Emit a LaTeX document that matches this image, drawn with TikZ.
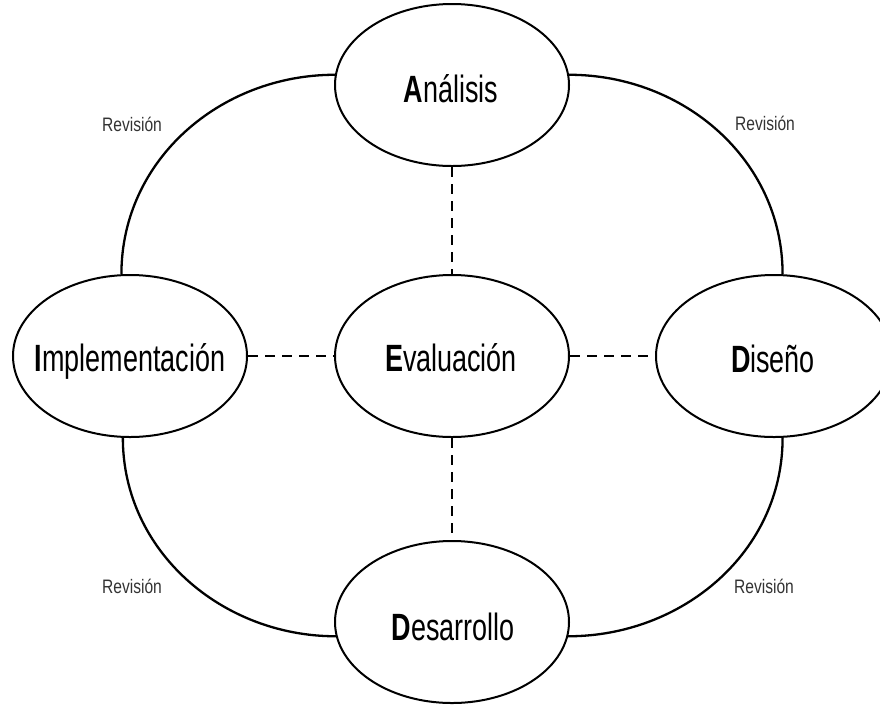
\documentclass[tikz,border=0pt]{standalone}
\usepackage{fontspec}
\setmainfont{Liberation Sans}
\usetikzlibrary{shapes.geometric}
\tikzset{
  phase/.style={ellipse, draw=black, line width=2pt, minimum width=234pt, minimum height=162pt, inner sep=0pt, fill=white},
  bigtext/.style={anchor=base, inner sep=0pt, font=\fontsize{38}{40}\selectfont},
  revtext/.style={anchor=base, inner sep=0pt, text=black!80, font=\fontsize{19.5}{22}\selectfont},
  cyclink/.style={line width=2.3pt},
  dashlink/.style={line width=2pt, dash pattern=on 10pt off 7pt},
}
\newcommand{\nm}[2]{\scalebox{0.71}[1]{\textbf{#1}#2}}
\newcommand{\rv}[1]{\scalebox{0.8}[1]{#1}}
\begin{document}
\begin{tikzpicture}[x=1pt,y=-1pt]
\useasboundingbox (0,0) rectangle (880,705);
% ellipses
\node[phase] (A) at (452,85) {};
\node[phase] (I) at (130,356) {};
\node[phase] (E) at (452,356) {};
\node[phase, minimum width=236pt] (D) at (774,356) {};
\node[phase] (Des) at (452,622) {};
% labels
\node[bigtext] (tA) at (451,102) {\nm{A}{nálisis}};
\node[bigtext] (tI) at (130,371) {\nm{I}{mplementación}};
\node[bigtext] (tE) at (451,371) {\nm{E}{valuación}};
\node[bigtext] (tD) at (773,372) {\nm{D}{iseño}};
\node[bigtext] (tDes) at (453,640) {\nm{D}{esarrollo}};
% cycle arcs
\draw[cyclink] (A.175) to[out=180,in=90] (I.96);
\draw[cyclink] (A.5) to[out=0,in=90] (D.84);
\draw[cyclink] (I.265) to[out=-90,in=180] (Des.187);
\draw[cyclink] (D.276) to[out=-90,in=0] (Des.353);
% dashed links
\draw[dashlink] (A) -- (E);
\draw[dashlink] (I) -- (E);
\draw[dashlink] (E) -- (D);
\draw[dashlink] (E) -- (Des);
% revision labels
\node[revtext] (r1) at (132,131) {\rv{Revisión}};
\node[revtext] (r2) at (765,130) {\rv{Revisión}};
\node[revtext] (r3) at (132,593) {\rv{Revisión}};
\node[revtext] (r4) at (764,593) {\rv{Revisión}};
\end{tikzpicture}
\end{document}
